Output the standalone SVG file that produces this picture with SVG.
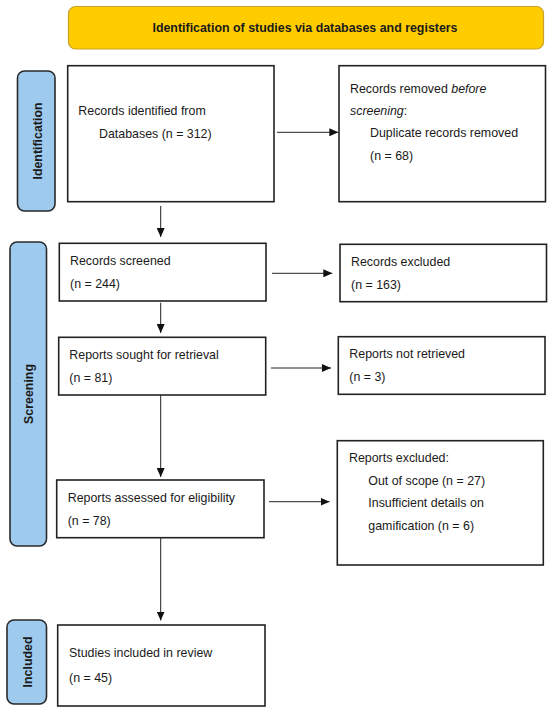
<svg xmlns="http://www.w3.org/2000/svg" width="550" height="712" viewBox="0 0 550 712">
<style>
.t{font-family:"Liberation Sans",Arial,sans-serif;font-size:12.4px;fill:#1a1a1a}
.b{font-weight:bold}
.box{fill:#fff;stroke:#222;stroke-width:1.6}
.side{fill:#9ECAEE;stroke:#2a2a2a;stroke-width:1.6}
.ln{stroke:#222;stroke-width:1;fill:none}
</style>
<defs>
<marker id="ah" markerUnits="userSpaceOnUse" markerWidth="10" markerHeight="8" refX="9" refY="4" orient="auto">
<path d="M0,0 L9,4 L0,8 Z" fill="#111"/>
</marker>
</defs>
<rect width="550" height="712" fill="#fff"/>

<g id="title">
<rect x="68.5" y="6.5" width="475" height="42.5" rx="7" fill="#FFCC00" stroke="#C9A227" stroke-width="1.2"/>
<text class="t b" x="305" y="32.3" text-anchor="middle">Identification of studies via databases and registers</text>
</g>

<g id="phase-identification">
<rect class="side" x="17.5" y="71" width="37.5" height="140" rx="7"/>
<text class="t b" transform="translate(42,141) rotate(-90)" text-anchor="middle">Identification</text>
</g>
<g id="phase-screening">
<rect class="side" x="10" y="242" width="36.5" height="304" rx="7"/>
<text class="t b" transform="translate(33.3,394) rotate(-90)" text-anchor="middle">Screening</text>
</g>
<g id="phase-included">
<rect class="side" x="7" y="620" width="39.5" height="84" rx="7"/>
<text class="t b" transform="translate(32.3,662) rotate(-90)" text-anchor="middle">Included</text>
</g>

<g id="records-identified">
<rect class="box" x="67.7" y="65.7" width="206.3" height="136"/>
<text class="t" x="78.3" y="115">Records identified from</text>
<text class="t" x="99" y="138.3">Databases (n = 312)</text>
</g>
<g id="records-removed">
<rect class="box" x="339" y="65.7" width="206.5" height="136"/>
<text class="t" x="350" y="92.7">Records removed <tspan font-style="italic">before</tspan></text>
<text class="t" x="350" y="115"><tspan font-style="italic">screening</tspan>:</text>
<text class="t" x="370" y="137.3">Duplicate records removed</text>
<text class="t" x="370" y="160">(n = 68)</text>
</g>
<g id="records-screened">
<rect class="box" x="59.3" y="243.3" width="206.7" height="57.7"/>
<text class="t" x="70" y="265">Records screened</text>
<text class="t" x="70" y="288.3">(n = 244)</text>
</g>
<g id="records-excluded">
<rect class="box" x="340" y="244.3" width="206.5" height="57.4"/>
<text class="t" x="351" y="266">Records excluded</text>
<text class="t" x="351" y="289.3">(n = 163)</text>
</g>
<g id="reports-sought">
<rect class="box" x="58.7" y="337.3" width="207" height="57.7"/>
<text class="t" x="69.3" y="359">Reports sought for retrieval</text>
<text class="t" x="69.3" y="381.7">(n = 81)</text>
</g>
<g id="reports-not-retrieved">
<rect class="box" x="338.3" y="336.7" width="206.7" height="57.6"/>
<text class="t" x="349.3" y="358.3">Reports not retrieved</text>
<text class="t" x="349.3" y="380.7">(n = 3)</text>
</g>
<g id="reports-assessed">
<rect class="box" x="56.7" y="480" width="207.3" height="57.7"/>
<text class="t" x="67.7" y="501.7">Reports assessed for eligibility</text>
<text class="t" x="67.7" y="525">(n = 78)</text>
</g>
<g id="reports-excluded">
<rect class="box" x="337.3" y="440.7" width="206" height="124.3"/>
<text class="t" x="349" y="462.3">Reports excluded:</text>
<text class="t" x="368.3" y="485">Out of scope (n = 27)</text>
<text class="t" x="368.3" y="506.7">Insufficient details on</text>
<text class="t" x="368.3" y="530">gamification (n = 6)</text>
</g>
<g id="studies-included">
<rect class="box" x="57.7" y="625" width="207.3" height="81"/>
<text class="t" x="69" y="657">Studies included in review</text>
<text class="t" x="69" y="681.7">(n = 45)</text>
</g>

<g id="connectors">
<line class="ln" x1="277" y1="132.3" x2="338.3" y2="132.3" marker-end="url(#ah)"/>
<line class="ln" x1="160.7" y1="206" x2="160.7" y2="237" marker-end="url(#ah)"/>
<line class="ln" x1="272" y1="273.3" x2="332.3" y2="273.3" marker-end="url(#ah)"/>
<line class="ln" x1="160.7" y1="302.7" x2="160.7" y2="333" marker-end="url(#ah)"/>
<line class="ln" x1="271" y1="368" x2="331" y2="368" marker-end="url(#ah)"/>
<line class="ln" x1="160.7" y1="395" x2="160.7" y2="477" marker-end="url(#ah)"/>
<line class="ln" x1="269" y1="501.7" x2="329.5" y2="501.7" marker-end="url(#ah)"/>
<line class="ln" x1="160.7" y1="538" x2="160.7" y2="620.5" marker-end="url(#ah)"/>
</g>
</svg>
